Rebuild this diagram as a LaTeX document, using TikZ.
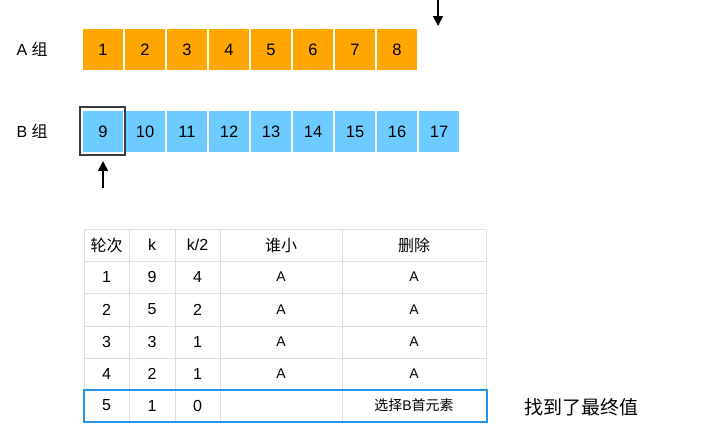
\documentclass[tikz,border=0pt]{standalone}
\usepackage{fontspec}
\setmainfont{Liberation Sans}
\newfontfamily\cjk{Noto Sans CJK SC}
\usetikzlibrary{arrows.meta}
\definecolor{orangecell}{RGB}{255,166,0}
\definecolor{bluecell}{RGB}{110,203,255}
\definecolor{gridgray}{RGB}{222,222,222}
\definecolor{hiblue}{RGB}{35,150,235}
\tikzset{
  acell/.style={fill=orangecell, minimum width=40pt, minimum height=41pt, inner sep=0pt, font=\fontsize{16.5}{16.5}\selectfont},
  bcell/.style={fill=bluecell, minimum width=40pt, minimum height=41pt, inner sep=0pt, font=\fontsize{16.5}{16.5}\selectfont},
  grp/.style={font=\fontsize{16}{16}\selectfont, anchor=west},
  tcell/.style={font=\fontsize{16}{16}\selectfont, inner sep=0pt},
  tsmall/.style={font=\fontsize{14}{14}\selectfont, inner sep=0pt},
  ptr/.style={-{Triangle[length=10pt,width=10pt]}, line width=1.6pt}
}
\begin{document}
\begin{tikzpicture}[x=1pt,y=-1pt]
\useasboundingbox (0,0) rectangle (708,431);
% group labels
\node[grp] (la) at (13,49.5) {A {\cjk 组}};
\node[grp] (lb) at (13,131.5) {B {\cjk 组}};
% A cells
\foreach \i in {1,...,8} {
  \node[acell] (a\i) at ({103+42*(\i-1)},49.5) {\i};
}
% B cells
\foreach \j in {9,...,17} {
  \node[bcell] (b\j) at ({103+42*(\j-9)},131.5) {\j};
}
% frame around 9
\node[draw={rgb,255:red,60;green,60;blue,60}, line width=1.3pt, minimum width=45pt, minimum height=48pt, inner sep=0pt] (f9) at (102.5,131) {};
% pointers
\coordinate (pA0) at (438,0);
\coordinate (pA1) at (438,26);
\draw[ptr] (pA0) -- (pA1);
\coordinate (pB0) at (103,188);
\coordinate (pB1) at (103,161);
\draw[ptr] (pB0) -- (pB1);
% table grid
\draw[gridgray, line width=0.9pt] (84,229) rectangle (486,422);
\foreach \x in {129,175,220,342} { \draw[gridgray, line width=0.9pt] (\x,229) -- (\x,422); }
\foreach \y in {261,293,326,358,389} { \draw[gridgray, line width=0.9pt] (84,\y) -- (486,\y); }
% header
\node[tcell] (h1) at (106.5,245) {\cjk 轮次};
\node[tcell] (h2) at (152,245) {k};
\node[tcell] (h3) at (197.5,245) {k/2};
\node[tcell] (h4) at (281,245) {\cjk 谁小};
\node[tcell] (h5) at (414,245) {\cjk 删除};
% rows
\node[tcell] (r1c1) at (106.5,277) {1};
\node[tcell] (r1c2) at (152,277) {9};
\node[tcell] (r1c3) at (197.5,277) {4};
\node[tsmall] (r1c4) at (281,277) {A};
\node[tsmall] (r1c5) at (414,277) {A};
\node[tcell] (r2c1) at (106.5,309.5) {2};
\node[tcell] (r2c2) at (152,309.5) {5};
\node[tcell] (r2c3) at (197.5,309.5) {2};
\node[tsmall] (r2c4) at (281,309.5) {A};
\node[tsmall] (r2c5) at (414,309.5) {A};
\node[tcell] (r3c1) at (106.5,342) {3};
\node[tcell] (r3c2) at (152,342) {3};
\node[tcell] (r3c3) at (197.5,342) {1};
\node[tsmall] (r3c4) at (281,342) {A};
\node[tsmall] (r3c5) at (414,342) {A};
\node[tcell] (r4c1) at (106.5,373.5) {4};
\node[tcell] (r4c2) at (152,373.5) {2};
\node[tcell] (r4c3) at (197.5,373.5) {1};
\node[tsmall] (r4c4) at (281,373.5) {A};
\node[tsmall] (r4c5) at (414,373.5) {A};
\node[tcell] (r5c1) at (106.5,405.5) {5};
\node[tcell] (r5c2) at (152,405.5) {1};
\node[tcell] (r5c3) at (197.5,405.5) {0};
\node[tsmall] (r5c5) at (414,405.5) {{\cjk 选择}B{\cjk 首元素}};
% highlight last row
\node[draw=hiblue, line width=2pt, minimum width=403pt, minimum height=32pt, inner sep=0pt] (hl) at (285.5,405.5) {};
% note
\node[font=\fontsize{19}{19}\selectfont, anchor=west, inner sep=0pt] (note) at (524,407) {\cjk 找到了最终值};
\end{tikzpicture}
\end{document}
